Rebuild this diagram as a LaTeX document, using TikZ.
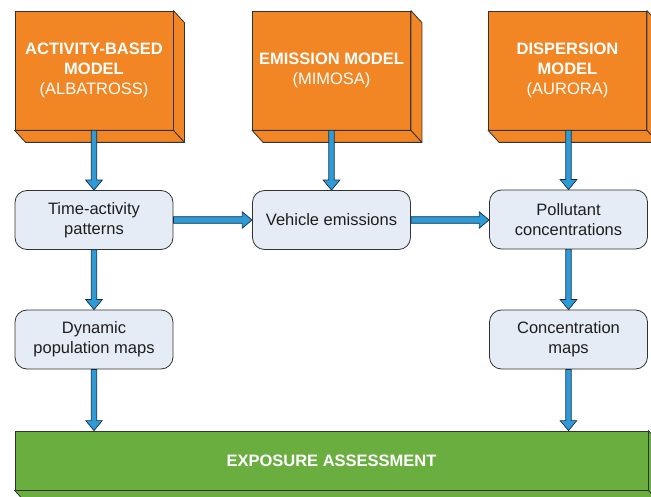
\documentclass[tikz,border=0pt]{standalone}
\usepackage{fontspec}
\setmainfont{Liberation Sans}
\usetikzlibrary{calc}

\definecolor{modelorange}{RGB}{242,134,36}
\definecolor{assessgreen}{RGB}{106,174,64}
\definecolor{stepfill}{RGB}{230,236,246}
\definecolor{edgegray}{RGB}{50,50,50}
\definecolor{textdark}{RGB}{30,30,30}
\definecolor{arrowblue}{RGB}{44,155,216}
\definecolor{arrowedge}{RGB}{25,45,65}

% extruded faces of a cuboid block, seen from the front-left-top
\newcommand\cuboidfaces[2]{%
  \filldraw[fill=#2, draw=edgegray, line width=0.8pt, line join=round]
    (#1.north east) -- ++(11,12) -- ($(#1.south east)+(11,12)$) -- (#1.south east) -- cycle;
  \filldraw[fill=#2, draw=edgegray, line width=0.8pt, line join=round]
    (#1.south west) -- ++(11,12) -- ($(#1.south east)+(11,12)$) -- (#1.south east) -- cycle;
}

% block arrows: shaft plus triangular head, drawn from node to node
\newcommand\downarrowblock[2]{%
  \path let \p1=(#1), \p2=(#2) in
    [blockarrow] (\x1-2.7pt,\y1) -- (\x1-2.7pt,\y2+10pt) -- (\x1-8.3pt,\y2+10pt)
    -- (\x1,\y2) -- (\x1+8.3pt,\y2+10pt) -- (\x1+2.7pt,\y2+10pt) -- (\x1+2.7pt,\y1) -- cycle;
}
\newcommand\rightarrowblock[2]{%
  \path let \p1=(#1), \p2=(#2) in
    [blockarrow] (\x1,\y1+3.3pt) -- (\x2-10pt,\y1+3.3pt) -- (\x2-10pt,\y1+8.3pt)
    -- (\x2,\y1) -- (\x2-10pt,\y1-8.3pt) -- (\x2-10pt,\y1-3.3pt) -- (\x1,\y1-3.3pt) -- cycle;
}

\begin{document}
\begin{tikzpicture}[x=1pt, y=-1pt,
  textstyle/.style={font=\fontsize{16.5}{20}\selectfont},
  modelbox/.style={textstyle, draw=edgegray, line width=0.8pt, fill=modelorange,
    minimum width=158pt, minimum height=119pt, inner sep=0pt,
    text=white, align=center},
  stepbox/.style={textstyle, draw=edgegray, line width=0.8pt, fill=stepfill,
    rounded corners=12pt, minimum width=158pt, minimum height=59pt, inner sep=0pt,
    text=textdark, align=center},
  assessbox/.style={textstyle, draw=edgegray, line width=0.8pt, fill=assessgreen,
    minimum width=633pt, minimum height=59pt, inner sep=0pt,
    text=white, align=center},
  blockarrow/.style={fill=arrowblue, draw=arrowedge, line width=0.7pt, line join=miter}
]
\useasboundingbox (0,0) rectangle (651,497);
\clip (0,0) rectangle (651,497);

% model blocks
\node[modelbox] (abm) at (94,70.5) {\textbf{ACTIVITY-BASED}\\\textbf{MODEL}\\(ALBATROSS)};
\node[modelbox] (emm) at (331.5,70.5) {\textbf{EMISSION MODEL}\\(MIMOSA)};
\node[modelbox] (dpm) at (567.5,70.5) {\textbf{DISPERSION}\\\textbf{MODEL}\\(AURORA)};
\cuboidfaces{abm}{modelorange}
\cuboidfaces{emm}{modelorange}
\cuboidfaces{dpm}{modelorange}

% intermediate results
\node[stepbox] (tap) at (94,220) {Time-activity\\patterns};
\node[stepbox] (veh) at (331.5,220) {Vehicle emissions};
\node[stepbox] (pol) at (568.5,219.5) {Pollutant\\concentrations};
\node[stepbox] (dyn) at (94,339.5) {Dynamic\\population maps};
\node[stepbox] (con) at (568.5,339.5) {Concentration\\maps};

% exposure assessment block
\node[assessbox] (exp) at (331.5,460.5) {\textbf{EXPOSURE ASSESSMENT}};
\cuboidfaces{exp}{assessgreen}

% flows
\downarrowblock{abm.south}{tap.north}
\downarrowblock{emm.south}{veh.north}
\downarrowblock{dpm.south -| pol.north}{pol.north}
\downarrowblock{tap.south}{dyn.north}
\downarrowblock{pol.south}{con.north}
\downarrowblock{dyn.south}{dyn.south |- exp.north}
\downarrowblock{con.south}{con.south |- exp.north}
\rightarrowblock{tap.east}{veh.west}
\rightarrowblock{veh.east}{pol.west}
\end{tikzpicture}
\end{document}
